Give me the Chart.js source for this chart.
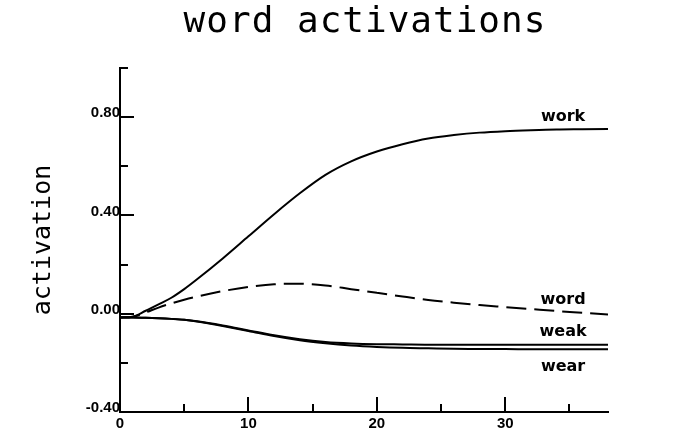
<!DOCTYPE html>
<html>
<head>
<meta charset="utf-8">
<script src="https://cdn.jsdelivr.net/npm/chart.js@4.4.1/dist/chart.umd.min.js"></script>
<style>
  html, body { margin: 0; padding: 0; background: #fff; }
  #wrap { width: 679px; height: 446px; }
</style>
</head>
<body>
<div id="wrap"><canvas id="chart" width="679" height="446"></canvas></div>
<script>
// time steps (x) and word activations
const times = [0, 1, 2, 3, 4, 5, 6, 8, 10, 12, 14, 16, 18, 20, 22, 24, 26, 28, 30, 32, 34, 36, 38];
const work = [-0.015, -0.012, 0.012, 0.038, 0.065, 0.10, 0.14, 0.225, 0.315, 0.405, 0.49, 0.565, 0.62, 0.66, 0.69, 0.713, 0.727, 0.737, 0.743, 0.747, 0.75, 0.751, 0.752];
const word = [-0.015, -0.012, 0.005, 0.025, 0.042, 0.057, 0.07, 0.092, 0.109, 0.12, 0.122, 0.115, 0.10, 0.085, 0.07, 0.056, 0.045, 0.035, 0.027, 0.019, 0.011, 0.004, -0.003];
const weak = [-0.015, -0.015, -0.016, -0.018, -0.021, -0.025, -0.031, -0.048, -0.068, -0.088, -0.104, -0.115, -0.121, -0.124, -0.125, -0.126, -0.126, -0.126, -0.126, -0.126, -0.126, -0.126, -0.126];
const wear = [-0.015, -0.015, -0.016, -0.018, -0.021, -0.025, -0.032, -0.05, -0.07, -0.091, -0.108, -0.12, -0.129, -0.135, -0.139, -0.141, -0.143, -0.144, -0.144, -0.145, -0.145, -0.145, -0.145];

// tick values
const yLabelTicks = [-0.4, 0, 0.4, 0.8];
const yMajorTicks = [0, 0.4, 0.8];
const yMinorTicks = [-0.2, 0.2, 0.6, 1.0];
const xLabelTicks = [0, 10, 20, 30];
const xMajorTicks = [10, 20, 30];
const xMinorTicks = [5, 15, 25, 35];

const titleText = "word activations";

const toPoints = (vals) => vals.map((v, i) => ({ x: times[i], y: v }));

// series name label: x in data units, pixel shift from the line end
const nameLabelX = 34.5;
const nameOffsets = { work: -12, word: -15, weak: -13, wear: 18 };

// title over the plot area, inward tick marks, curve names
const decorations = {
  id: "decorations",
  afterDraw(chart) {
    const ctx = chart.ctx;
    const xs = chart.scales.x;
    const ys = chart.scales.y;
    const area = chart.chartArea;
    ctx.save();

    ctx.fillStyle = "#000";
    ctx.font = "36px 'DejaVu Sans Mono'";
    ctx.textAlign = "center";
    ctx.textBaseline = "alphabetic";
    ctx.letterSpacing = "1px";
    ctx.fillText(titleText, (area.left + area.right) / 2 + 1, 32);
    ctx.letterSpacing = "0px";

    ctx.strokeStyle = "#000";
    ctx.lineWidth = 2;
    ctx.beginPath();
    yMajorTicks.forEach((v) => {
      const y = Math.round(ys.getPixelForValue(v));
      ctx.moveTo(area.left, y);
      ctx.lineTo(area.left + 14, y);
    });
    yMinorTicks.forEach((v) => {
      const y = Math.round(ys.getPixelForValue(v));
      ctx.moveTo(area.left, y);
      ctx.lineTo(area.left + 8, y);
    });
    xMajorTicks.forEach((v) => {
      const x = Math.round(xs.getPixelForValue(v));
      ctx.moveTo(x, area.bottom);
      ctx.lineTo(x, area.bottom - 15);
    });
    xMinorTicks.forEach((v) => {
      const x = Math.round(xs.getPixelForValue(v));
      ctx.moveTo(x, area.bottom);
      ctx.lineTo(x, area.bottom - 8);
    });
    ctx.stroke();

    ctx.font = "bold 16px 'DejaVu Sans'";
    ctx.textBaseline = "middle";
    chart.data.datasets.forEach((ds) => {
      const last = ds.data[ds.data.length - 1];
      const x = xs.getPixelForValue(nameLabelX);
      const y = ys.getPixelForValue(last.y) + nameOffsets[ds.label];
      ctx.fillText(ds.label, x, y);
    });
    ctx.restore();
  },
};

const lineStyle = {
  borderColor: "#000",
  borderWidth: 2,
  pointRadius: 0,
  fill: false,
  cubicInterpolationMode: "monotone",
};

new Chart(document.getElementById("chart").getContext("2d"), {
  type: "line",
  data: {
    datasets: [
      { label: "work", data: toPoints(work), ...lineStyle },
      { label: "word", data: toPoints(word), ...lineStyle, borderDash: [20, 8] },
      { label: "weak", data: toPoints(weak), ...lineStyle },
      { label: "wear", data: toPoints(wear), ...lineStyle },
    ],
  },
  options: {
    responsive: false,
    animation: false,
    layout: { padding: { top: 68, right: 71, bottom: 0, left: 0 } },
    plugins: {
      legend: { display: false },
      tooltip: { enabled: false },
      title: { display: false },
    },
    scales: {
      x: {
        type: "linear",
        min: 0,
        max: 38,
        border: { display: true, color: "#000", width: 2 },
        grid: { display: false, drawTicks: false },
        afterBuildTicks: (scale) => {
          scale.ticks = xLabelTicks.map((v) => ({ value: v }));
        },
        afterFit: (scale) => { scale.height = 34; },
        ticks: {
          color: "#000",
          padding: 3,
          maxRotation: 0,
          font: { family: "'Liberation Sans'", size: 15, weight: "bold" },
          callback: (v) => String(v),
        },
      },
      y: {
        min: -0.4,
        max: 1.0,
        border: { display: true, color: "#000", width: 2 },
        grid: { display: false, drawTicks: false },
        afterBuildTicks: (scale) => {
          scale.ticks = yLabelTicks.map((v) => ({ value: v }));
        },
        afterFit: (scale) => { scale.width = 120; },
        title: {
          display: true,
          text: "activation",
          color: "#000",
          font: { family: "'DejaVu Sans Mono'", size: 25, weight: "normal" },
          padding: { top: 28, bottom: 0 },
        },
        ticks: {
          color: "#000",
          padding: 0,
          labelOffset: -4,
          font: { family: "'Liberation Sans'", size: 15, weight: "bold" },
          callback: (v) => v.toFixed(2),
        },
      },
    },
  },
  plugins: [decorations],
});
</script>
</body>
</html>
